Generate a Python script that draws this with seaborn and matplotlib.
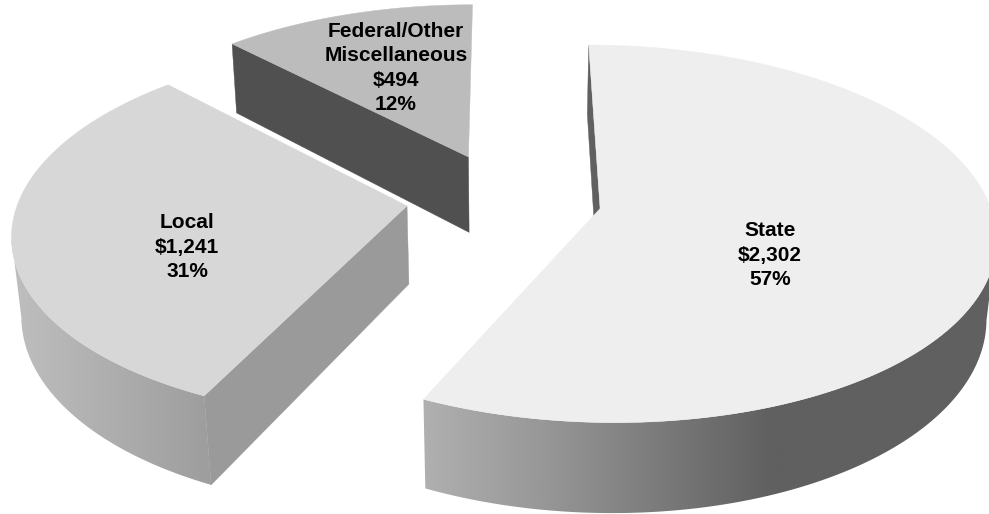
import numpy as np
import seaborn as sns
import matplotlib
matplotlib.use('Agg')
import matplotlib.pyplot as plt
from matplotlib.patches import Polygon

categories = ['State', 'Local', 'Federal/Other\nMiscellaneous']
amounts = [2302, 1241, 494]
amount_labels = ['$2,302', '$1,241', '$494']
percent_labels = ['57%', '31%', '12%']

# look of each slice, same order as categories
top_cols = ['#eeeeee', '#d7d7d7', '#bcbcbc']
wall_cols = ['#606060', '#9a9a9a', '#505050']   # the cut face you can see
rim_ramps = [['#b0b0b0', '#989898', '#7c7c7c', '#606060'], ['#bebebe', '#9e9e9e'], ['#909090', '#909090']]
rim_spans = [(423, 770), (15, 205), (233, 473)]
label_xy = [(770, 255), (187, 247), (396, 68)]

# projection of the tilted pie, in pixels
rx, ry = 394, 188.5
explode = 0.252
centre = (0, -22)
vx, vy = 504, 220
horizon = 1394
depth = 79
nadir = 4230

sns.set_theme(style='white')
plt.rcParams['font.family'] = ['Liberation Sans', 'DejaVu Sans']


def project(gx, gy):
    s = 1 / (1 - gy / horizon)
    return vx + gx * s, vy + gy * s, s


def drop(gx, gy):
    x, y, s = project(gx, gy)
    d = depth * s
    return x + (vx - x) * d / (nadir - y), y + d


fig, ax = plt.subplots(figsize=(9.89, 5.14), dpi=100)
fig.subplots_adjust(0, 0, 1, 1)

edges = np.cumsum([0] + amounts) / sum(amounts) * 2 * np.pi
px = np.arange(990)

for i in [2, 0, 1]:     # back to front
    a0, a1 = edges[i], edges[i + 1]
    mid = (a0 + a1) / 2
    cx = centre[0] + explode * rx * np.sin(mid)
    cy = centre[1] - explode * ry * np.cos(mid)
    th = np.linspace(a0, a1, 240)
    gx = cx + rx * np.sin(th)
    gy = cy - ry * np.cos(th)
    tx, ty, _ = project(gx, gy)
    bx, by = drop(gx, gy)
    ax0, ay0, _ = project(cx, cy)
    abx, aby = drop(cx, cy)

    # outer rim, a left to right gradient clipped to the front part of the rim
    front = np.gradient(tx) < 0
    if front.sum() > 1:
        ramp = np.array(sns.blend_palette(rim_ramps[i], 256))[:, :3]
        f = np.clip((px - rim_spans[i][0]) / (rim_spans[i][1] - rim_spans[i][0]), 0, 1)
        grad = ramp[(f * 255).astype(int)][np.newaxis, :, :]
        im = ax.imshow(grad, extent=(0, 989, 514, 0), aspect='auto',
                       interpolation='bilinear', zorder=i * 10 + 1)
        rim = Polygon(np.c_[np.r_[tx[front], bx[front][::-1]], np.r_[ty[front], by[front][::-1]]],
                      closed=True, transform=ax.transData)
        im.set_clip_path(rim)

    # cut face on the first edge
    ax.fill([ax0, tx[0], bx[0], abx], [ay0, ty[0], by[0], aby],
            color=wall_cols[i], lw=0.3, zorder=i * 10 + 2)

    # top face
    ax.fill(np.r_[ax0, tx], np.r_[ay0, ty], color=top_cols[i], lw=0.3, zorder=i * 10 + 3)

for i, name in enumerate(categories):
    ax.text(label_xy[i][0], label_xy[i][1],
            name + '\n' + amount_labels[i] + '\n' + percent_labels[i],
            ha='center', va='center', fontsize=15, fontweight='bold',
            color='black', linespacing=1.36, zorder=50)

ax.set_xlim(0, 989)
ax.set_ylim(514, 0)
ax.set_xticks([])
ax.set_yticks([])
sns.despine(ax=ax, left=True, bottom=True)

fig.savefig('out.png', dpi=100)
